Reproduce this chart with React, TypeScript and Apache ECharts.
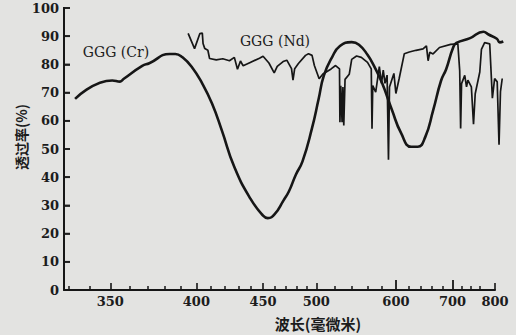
import React, { useEffect, useRef } from "react";
import * as echarts from "echarts";

// Wavelength (nm) / transmittance (%)
const crWavelengths = [333, 351, 355, 357, 367, 371, 383, 386.5, 391, 397, 404, 410.7, 417.7, 427, 439.7, 450, 454, 460, 468, 473, 479.5, 486, 495.5, 502.5, 508, 517, 526, 540, 549, 560, 569, 580, 594, 608, 624, 635, 648, 662, 677, 687, 701, 708, 738, 770, 783, 805, 813, 823];
const crTransmittance = [67.8, 74.3, 73.9, 74.9, 79.5, 80.4, 83.7, 83.7, 82.5, 79.1, 73.2, 66.1, 56.6, 43.6, 32.3, 26.4, 25.5, 26.9, 31.8, 35, 40.9, 45.6, 57.3, 67.8, 76, 82.5, 86.5, 87.9, 87, 83.4, 79.3, 73.3, 63.9, 55.6, 50.8, 50.8, 54.3, 63.6, 74.2, 78.3, 85.9, 87.6, 89.3, 91.6, 90.6, 89.1, 87.8, 88.1];

const ndWavelengths = [394.6, 398.8, 402.3, 404, 404.5, 405.7, 407.8, 409, 413.7, 418.4, 423.3, 427, 429.4, 431.7, 433.8, 439, 447, 450, 455, 459.6, 462.3, 467.6, 471, 475.4, 476.8, 478.4, 482, 489, 492, 495.6, 498, 503, 507, 516, 521, 525.5, 526, 527, 528.5, 529.5, 530.5, 532, 537, 540, 546, 552, 560, 565, 566, 567, 571, 576, 579, 581.5, 584, 587, 589, 590.5, 597, 600, 605, 613, 621, 632, 644, 650, 653, 656, 662, 674, 696, 711, 715, 717, 719, 726, 730, 733, 741, 746, 750, 761, 765, 773, 786, 793, 799, 806, 811, 815, 820];
const ndTransmittance = [91.0, 85.6, 90.9, 91.1, 87.4, 85.6, 85.0, 82.1, 81.6, 82.0, 81.3, 82.5, 78.3, 81.2, 79.5, 80.6, 82.2, 82.9, 80.5, 77.0, 79.3, 81, 81.5, 78.5, 74.4, 78.5, 80.3, 83.2, 83.8, 83.2, 79.6, 74.9, 76.6, 78.4, 79.6, 78.4, 59.5, 72.4, 59.5, 72, 58.3, 74.7, 76.5, 81.8, 83, 82.5, 80.7, 78.4, 57.2, 72.5, 70.2, 79.2, 73.3, 78, 73.3, 76.2, 46.2, 72, 76.8, 69.7, 75, 83.8, 84.4, 85, 85.5, 86.6, 81.3, 84.3, 83.7, 86, 87.1, 87.3, 77.8, 57.3, 73.2, 76.1, 72, 74.4, 72, 58.8, 69.6, 77.3, 85.3, 87.7, 87.3, 68, 75, 73.8, 51.5, 70.3, 75];

const labelWavelengths = [350, 400, 450, 500, 600, 700, 800];
const majorTickWavelengths = [350, 400, 450, 500, 800];
const tallTickWavelengths = [600, 700];
const minorTickWavelengths = [330, 340, 360, 370, 380, 390, 410, 420, 430, 440, 460, 470, 480, 490, 520, 540, 560, 580, 620, 640, 660, 680, 720, 740, 760];
const yTickValues = [0, 10, 20, 30, 40, 50, 60, 70, 80, 90, 100];
const axisStartWavelength = 328;
const axisEndWavelength = 800;
const plotEndWavelength = 825;

// prism spectrometer scale (dispersion ~ A/λ + B/λ²), offset to stay positive
const toAxis = (nm: number) => {
  const s = 100 / nm;
  return 1000 - (2337.7 * s + 126.3 * s * s);
};

const INK = "#161616";
const PAPER = "#e3e3e1";
const SERIF = "'DejaVu Serif', 'Liberation Serif', serif";
const CJK = "'Noto Sans CJK SC', sans-serif";

const GRID_LEFT = 64;
const GRID_TOP = 8;
const GRID_BOTTOM = 45;
const AXIS_WIDTH = 431; // px from 328 nm to 800 nm

export default function App() {
  const ref = useRef<HTMLDivElement>(null);
  useEffect(() => {
    if (!ref.current) return;
    const chart = echarts.init(ref.current, undefined, { renderer: "svg" });
    const xMin = toAxis(axisStartWavelength);
    const xMax = toAxis(axisEndWavelength);
    const xPlotMax = toAxis(plotEndWavelength);
    const pxPerUnit = AXIS_WIDTH / (xMax - xMin);
    const plotWidth = (xPlotMax - xMin) * pxPerUnit;
    const labelValues = labelWavelengths.map(toAxis);
    const baseX = {
      type: "value" as const,
      gridIndex: 0,
      min: xMin,
      max: xMax,
      position: "bottom" as const,
      splitLine: { show: false },
    };
    chart.setOption({
      animation: false,
      backgroundColor: PAPER,
      grid: [
        { left: GRID_LEFT, width: AXIS_WIDTH, top: GRID_TOP, bottom: GRID_BOTTOM },
        { left: GRID_LEFT, width: plotWidth, top: GRID_TOP, bottom: GRID_BOTTOM },
      ],
      xAxis: [
        {
          ...baseX,
          axisLine: { show: true, onZero: false, lineStyle: { color: INK, width: 2 } },
          axisTick: {
            show: true,
            inside: true,
            length: 7,
            customValues: majorTickWavelengths.map(toAxis),
            lineStyle: { color: INK, width: 1.6 },
          },
          axisLabel: {
            customValues: labelValues,
            margin: 5,
            color: "#1c1c1c",
            fontFamily: SERIF,
            fontSize: 13,
            fontWeight: "bold",
            formatter: (v: number) => {
              const i = labelValues.findIndex((u) => Math.abs(u - v) < 1e-6);
              return i >= 0 ? String(labelWavelengths[i]) : "";
            },
          },
        },
        {
          ...baseX,
          axisLine: { show: false },
          axisTick: {
            show: true,
            inside: true,
            length: 4,
            customValues: minorTickWavelengths.map(toAxis),
            lineStyle: { color: INK, width: 1.5 },
          },
          axisLabel: { show: false },
        },
        {
          ...baseX,
          axisLine: { show: false },
          axisTick: {
            show: true,
            inside: true,
            length: 10,
            customValues: tallTickWavelengths.map(toAxis),
            lineStyle: { color: INK, width: 1.8 },
          },
          axisLabel: { show: false },
        },
        {
          type: "value",
          gridIndex: 1,
          min: xMin,
          max: xPlotMax,
          show: false,
        },
      ],
      yAxis: [
        {
          type: "value",
          gridIndex: 0,
          position: "left",
          min: 0,
          max: 100,
          interval: 10,
          splitLine: { show: false },
          axisLine: { show: true, onZero: false, lineStyle: { color: INK, width: 2 } },
          axisTick: { show: true, inside: true, length: 6, lineStyle: { color: INK, width: 1.6 } },
          axisLabel: {
            margin: 5,
            color: "#1c1c1c",
            fontFamily: SERIF,
            fontSize: 13,
            fontWeight: "bold",
          },
        },
        {
          type: "value",
          gridIndex: 1,
          min: 0,
          max: 100,
          show: false,
        },
      ],
      graphic: [
        {
          // vertical axis rule along the grid's left edge
          type: "rect",
          shape: { x: GRID_LEFT - 1, y: GRID_TOP - 1, width: 2, height: 335 - GRID_BOTTOM - GRID_TOP + 1 },
          style: { fill: INK },
          z: 10,
        },
        {
          type: "text",
          x: 116,
          y: 52,
          style: { text: "GGG (Cr)", fill: "#1c1c1c", font: `14px ${SERIF}`, align: "center", verticalAlign: "middle" },
        },
        {
          type: "text",
          x: 275,
          y: 41,
          style: { text: "GGG (Nd)", fill: "#1c1c1c", font: `14px ${SERIF}`, align: "center", verticalAlign: "middle" },
        },
        {
          type: "text",
          x: 21,
          y: 137,
          rotation: Math.PI / 2,
          style: { text: "透过率(%)", fill: "#1c1c1c", font: `bold 14px ${CJK}`, align: "center", verticalAlign: "middle" },
        },
        {
          type: "text",
          x: 318,
          y: 323,
          style: { text: "波长(毫微米)", fill: "#1c1c1c", font: `bold 15px ${CJK}`, align: "center", verticalAlign: "middle" },
        },
      ],
      series: [
        {
          // inward ticks of the vertical axis, placed on the axis scale
          name: "y-ticks",
          type: "scatter",
          xAxisIndex: 0,
          yAxisIndex: 0,
          data: yTickValues.map((v) => [xMin, v]),
          symbol: "rect",
          symbolSize: [6, 1.8],
          symbolOffset: [3, 0],
          silent: true,
          clip: false,
          z: 10,
          itemStyle: { color: INK },
        },
        {
          name: "GGG (Cr)",
          type: "line",
          xAxisIndex: 3,
          yAxisIndex: 1,
          data: crWavelengths.map((w, i) => [toAxis(w), crTransmittance[i]]),
          showSymbol: false,
          symbol: "none",
          smooth: 0.5,
          clip: false,
          lineStyle: { color: INK, width: 2.6 },
        },
        {
          name: "GGG (Nd)",
          type: "line",
          xAxisIndex: 3,
          yAxisIndex: 1,
          data: ndWavelengths.map((w, i) => [toAxis(w), ndTransmittance[i]]),
          showSymbol: false,
          symbol: "none",
          smooth: false,
          clip: false,
          lineStyle: { color: INK, width: 1.7 },
        },
      ],
    });
    return () => chart.dispose();
  }, []);
  return (
    <div style={{ position: "fixed", left: 0, top: 0, width: 516, height: 335, background: PAPER, overflow: "hidden" }}>
      <div ref={ref} style={{ width: 516, height: 335 }} />
    </div>
  );
}
